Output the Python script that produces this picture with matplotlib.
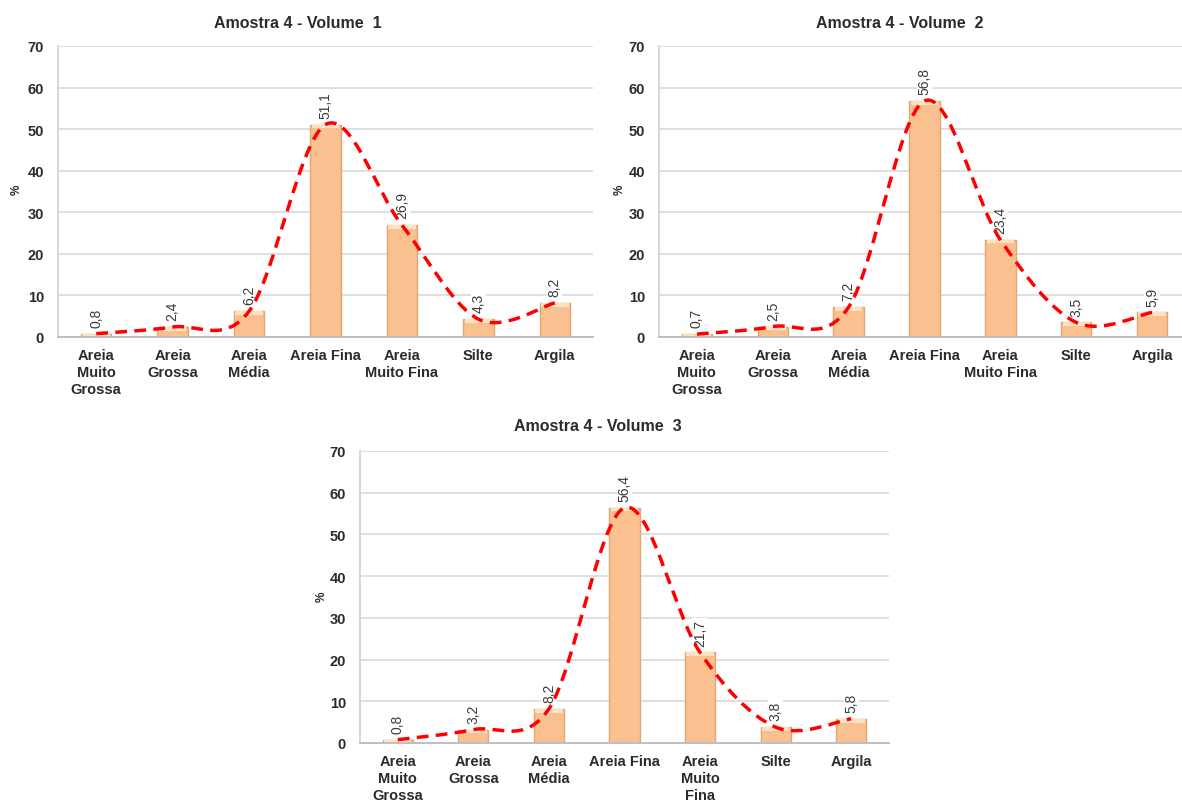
import numpy as np
import matplotlib.pyplot as plt
from matplotlib.path import Path
from matplotlib.patches import PathPatch

plt.rcParams['font.family'] = ['Liberation Sans', 'DejaVu Sans']

categories = ['Areia\nMuito\nGrossa', 'Areia\nGrossa', 'Areia\nMédia', 'Areia Fina',
              'Areia\nMuito Fina', 'Silte', 'Argila']
categories_v3 = ['Areia\nMuito\nGrossa', 'Areia\nGrossa', 'Areia\nMédia', 'Areia Fina',
                 'Areia\nMuito\nFina', 'Silte', 'Argila']
volume1 = [0.8, 2.4, 6.2, 51.1, 26.9, 4.3, 8.2]
volume2 = [0.7, 2.5, 7.2, 56.8, 23.4, 3.5, 5.9]
volume3 = [0.8, 3.2, 8.2, 56.4, 21.7, 3.8, 5.8]
titles = ['Amostra 4 - Volume  1', 'Amostra 4 - Volume  2', 'Amostra 4 - Volume  3']

W, H = 1182, 803
fig = plt.figure(figsize=(W / 100, H / 100), dpi=100)


def px_axes(x0, x1, ytop, ybot):
    return fig.add_axes([x0 / W, 1 - ybot / H, (x1 - x0) / W, (ybot - ytop) / H])


def smooth_path(xs, ys):
    # Excel-style smoothed line: Catmull-Rom through the points as cubic Beziers
    pts = np.column_stack([xs, ys]).astype(float)
    n = len(pts)
    verts = [pts[0]]
    codes = [Path.MOVETO]
    for i in range(n - 1):
        p0 = pts[i - 1] if i > 0 else pts[i]
        p1 = pts[i]
        p2 = pts[i + 1]
        p3 = pts[i + 2] if i + 2 < n else pts[i + 1]
        c1 = p1 + (p2 - p0) / 6
        c2 = p2 - (p3 - p1) / 6
        verts += [c1, c2, p2]
        codes += [Path.CURVE4] * 3
    return Path(verts, codes)


def draw(ax, values, labels, title, title_x, title_y, ylab_x, ylab_y):
    x = np.arange(len(values))
    vals = np.array(values)
    ax.set_axisbelow(True)
    ax.grid(axis='y', color='#dcdcdc', linewidth=1.3)
    ax.bar(x, vals, width=0.4, color='#fac08f', edgecolor='#e0a673', linewidth=1.0, zorder=2)
    # light cap on top of each bar
    cap = np.minimum(vals, 0.9)
    ax.bar(x, cap, bottom=vals - cap, width=0.36, color='#fde2c2', linewidth=0, zorder=2.5)
    for xi, v in zip(x, values):
        ax.annotate(f'{v:.1f}'.replace('.', ','), (xi, v), xytext=(0, 5),
                    textcoords='offset points', rotation=90, ha='center', va='bottom',
                    fontsize=10, color='#3a3a3a', zorder=3,
                    bbox=dict(facecolor='white', edgecolor='none', pad=0.5))
    patch = PathPatch(smooth_path(x, values), facecolor='none', edgecolor='#ff0000',
                      linewidth=2.5, linestyle=(0, (3.4, 2.1)), zorder=4)
    ax.add_patch(patch)
    ax.set_xlim(-0.5, len(values) - 0.5)
    ax.set_ylim(0, 70)
    ax.set_yticks(range(0, 71, 10))
    ax.set_xticks(x)
    ax.set_xticklabels(labels, fontsize=10.5, fontweight='bold', color='#2b2b2b', linespacing=1.25)
    ax.tick_params(axis='y', length=0, labelsize=10.5, labelcolor='#2b2b2b', pad=10)
    ax.tick_params(axis='x', length=0, pad=8)
    for lab in ax.get_yticklabels():
        lab.set_fontweight('bold')
    for s in ['top', 'right']:
        ax.spines[s].set_visible(False)
    ax.spines['left'].set_color('#d4d4d4')
    ax.spines['left'].set_linewidth(1.3)
    ax.spines['bottom'].set_color('#bfbfbf')
    ax.spines['bottom'].set_linewidth(1.4)
    fig.text(title_x / W, 1 - title_y / H, title, ha='center', va='center',
             fontsize=11.5, fontweight='bold', color='#2b2b2b')
    fig.text(ylab_x / W, 1 - ylab_y / H, '%', ha='center', va='center', rotation=90,
             fontsize=8.5, fontweight='bold', color='#2b2b2b')


ax1 = px_axes(58, 593, 47, 338)
draw(ax1, volume1, categories, titles[0], 298, 24, 17, 190)

ax2 = px_axes(659, 1190, 47, 338)
draw(ax2, volume2, categories, titles[1], 900, 24, 620, 190)

ax3 = px_axes(360, 889, 452, 744)
draw(ax3, volume3, categories_v3, titles[2], 598, 427, 322, 597)

fig.savefig('out.png', dpi=100)
